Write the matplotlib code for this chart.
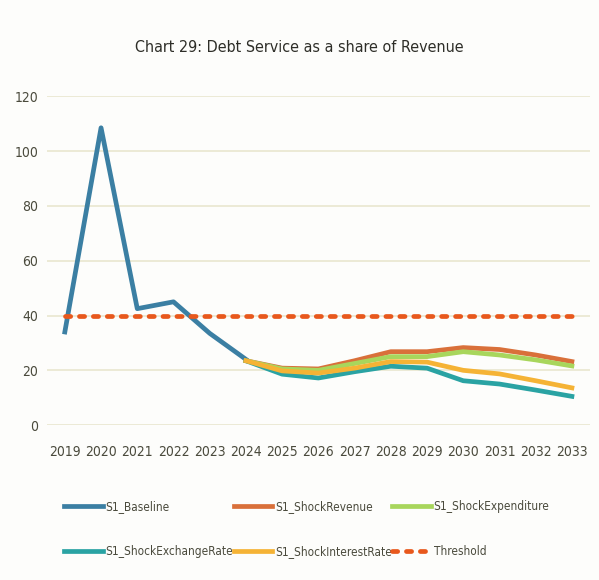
import matplotlib
matplotlib.use("Agg")
import matplotlib.pyplot as plt
from matplotlib.lines import Line2D

plt.rcParams['font.family'] = ['DejaVu Sans']
plt.rcParams['font.stretch'] = 'condensed'

years = [str(y) for y in range(2019, 2034)]

baseline = [34, 108.5, 42.5, 45, 33.5, 24]
shock_revenue = [23.5, 20.8, 20.5, 23.5, 26.8, 26.8, 28.3, 27.6, 25.6, 23.2]
shock_expenditure = [23.5, 20.5, 20.0, 22.5, 25.0, 25.0, 26.8, 25.6, 23.8, 21.6]
shock_exchange = [23.5, 18.6, 17.2, 19.5, 21.5, 20.8, 16.2, 15.0, 12.8, 10.5]
shock_interest = [23.5, 19.8, 19.0, 20.8, 23.2, 23.0, 20.0, 18.7, 16.2, 13.6]
threshold = [40] * 15

yticks = [0, 20, 40, 60, 80, 100, 120]

c_base = '#3b7fa3'
c_rev = '#d9703a'
c_exp = '#a8d65c'
c_exch = '#2aa3a3'
c_int = '#f5b335'
c_thr = '#e8581c'
txt = '#4a4a3c'

fig = plt.figure(figsize=(5.99, 5.8), dpi=100)
fig.patch.set_facecolor('#fdfdfb')
ax = fig.add_axes([0.078, 0.267, 0.907, 0.567])
ax.set_facecolor('#fdfdfb')

x_all = list(range(len(years)))
x_base = x_all[:len(baseline)]
x_scen = x_all[5:]

lw = 3.4
dash = (0, (1.1, 1.85))
ax.plot(x_base, baseline, color=c_base, lw=lw, solid_joinstyle='round', zorder=3)
ax.plot(x_scen, shock_revenue, color=c_rev, lw=lw, solid_joinstyle='round', zorder=3)
ax.plot(x_scen, shock_expenditure, color=c_exp, lw=lw, solid_joinstyle='round', zorder=3)
ax.plot(x_scen, shock_exchange, color=c_exch, lw=lw, solid_joinstyle='round', zorder=3)
ax.plot(x_scen, shock_interest, color=c_int, lw=lw, solid_joinstyle='round', zorder=3)
ax.plot(x_all, threshold, color=c_thr, lw=lw, linestyle=dash,
        dash_capstyle='round', zorder=4)

ax.set_xlim(-0.5, len(years) - 0.5)
ax.set_ylim(0, 120)
ax.set_yticks(yticks)
ax.set_xticks(x_all)
ax.set_xticklabels(years)
ax.grid(axis='y', color='#e9e7cf', lw=1.2)
ax.set_axisbelow(True)
for s in ax.spines.values():
    s.set_visible(False)
ax.tick_params(axis='both', length=0, labelsize=10, labelcolor=txt)
ax.tick_params(axis='x', pad=14)
ax.tick_params(axis='y', pad=6)

fig.text(0.5, 0.918, 'Chart 29: Debt Service as a share of Revenue',
         ha='center', va='center', fontsize=11.5, color='#2e2e28')

handles = [
    Line2D([], [], color=c_base, lw=lw),
    Line2D([], [], color=c_exch, lw=lw),
    Line2D([], [], color=c_rev, lw=lw),
    Line2D([], [], color=c_int, lw=lw),
    Line2D([], [], color=c_exp, lw=lw),
    Line2D([], [], color=c_thr, lw=lw, linestyle=dash, dash_capstyle='round'),
]
labels = ['S1_Baseline', 'S1_ShockExchangeRate', 'S1_ShockRevenue',
          'S1_ShockInterestRate', 'S1_ShockExpenditure', 'Threshold']
leg = fig.legend(handles, labels, ncol=3, loc='center', bbox_to_anchor=(0.512, 0.088),
                 frameon=False, fontsize=8.5, handlelength=3.3, handletextpad=0.2,
                 columnspacing=0.05, labelspacing=2.75)
for t in leg.get_texts():
    t.set_color(txt)

fig.savefig('out.png', dpi=100, facecolor=fig.get_facecolor())
